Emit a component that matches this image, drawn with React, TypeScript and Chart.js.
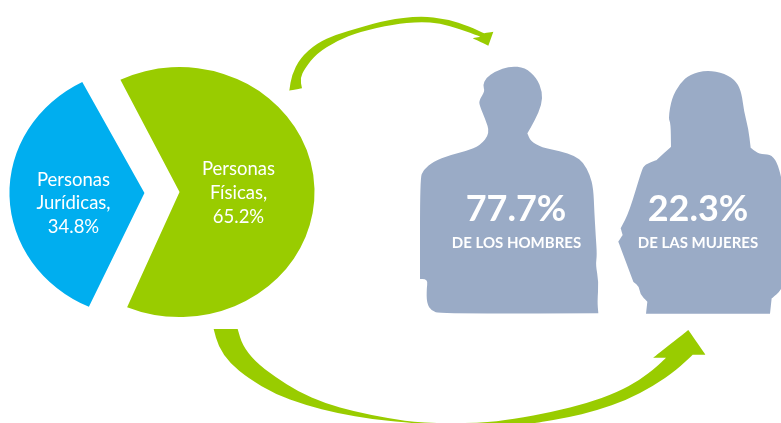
import React, { useEffect, useRef } from "react";
import { Chart, registerables } from "chart.js";

Chart.register(...registerables);

const categories = ["Personas Físicas", "Personas Jurídicas"];
const shares = [65.2, 34.8];
const sliceColors = ["#99CC00", "#00AEEF"];
const sliceLabels = [
  ["Personas", "Físicas,", "65.2%"],
  ["Personas", "Jurídicas,", "34.8%"],
];
const genderStats = ["77.7%", "22.3%"];
const genderLabels = ["DE LOS HOMBRES", "DE LAS MUJERES"];

const GREEN = "#99CC00";
const SILHOUETTE = "#9AABC6";
const FONT = "Lato";

type Pt = [number, number];

const map = (ox: number, oy: number, pts: Pt[]): Pt[] => pts.map(([x, y]) => [ox + x / 3, oy + y / 3]);

// Decorative outlines. A repeated point makes a sharp corner.
const manOutline = map(410, 55, [
  [300, 33], [345, 38], [380, 68], [397, 110], [395, 150], [375, 195], [352, 235], [352, 235], [362, 258], [395, 278],
  [450, 288], [495, 303], [520, 322], [540, 360], [550, 400], [553, 470], [557, 540], [561, 600], [557, 630], [566, 680],
  [562, 740], [565, 775], [565, 775], [90, 776], [65, 768], [50, 745], [50, 700], [53, 680], [45, 672], [30, 672], [30, 672],
  [30, 370], [40, 345], [70, 320], [120, 300], [170, 288], [210, 272], [240, 235], [225, 190], [208, 150], [208, 135],
  [225, 108], [218, 92], [228, 68], [255, 50],
]);

const womanOutline = map(600, 55, [
  [320, 45], [375, 55], [410, 80], [425, 115], [432, 170], [445, 220], [452, 278], [452, 278], [478, 298], [510, 298],
  [530, 318], [545, 370], [562, 470], [562, 650], [545, 705], [515, 730], [515, 730], [510, 776], [510, 776], [138, 776], [138, 776],
  [142, 740], [142, 740], [120, 718], [118, 695], [100, 680], [100, 680], [55, 560], [55, 560], [68, 540], [68, 540], [62, 520], [62, 520],
  [88, 470], [125, 345], [135, 328], [170, 315], [170, 315], [213, 275], [213, 275], [212, 205], [205, 190], [215, 130], [240, 85], [270, 58],
]);

const topArrow = map(280, 5, [
  [28, 257], [28, 257], [35, 210], [60, 160], [110, 115], [170, 88], [240, 68], [320, 45], [420, 33], [500, 42], [570, 65], [612, 85], [612, 85],
  [640, 80], [640, 80], [625, 122], [625, 122], [578, 100], [578, 100], [600, 95], [600, 95], [540, 72], [480, 55], [420, 50], [340, 58], [240, 80],
  [170, 108], [110, 145], [75, 190], [60, 220], [66, 250], [66, 250],
]);

const bottomArrow: Pt[] = [
  ...map(205, 320, [
    [26, 27], [26, 27], [40, 80], [75, 130], [130, 175], [210, 222], [300, 255], [400, 280], [500, 298], [600, 307], [650, 312],
  ]),
  ...map(440, 320, [
    [120, 312], [280, 310], [300, 307], [380, 293], [470, 272], [560, 240], [640, 198], [710, 150], [758, 104], [758, 104],
    [796, 104], [796, 104], [745, 30], [745, 30], [640, 113], [640, 113], [678, 113], [678, 113], [650, 140], [600, 180], [530, 218], [440, 250],
    [340, 275], [220, 298], [120, 309],
  ]),
  ...map(205, 320, [
    [650, 309], [550, 295], [450, 275], [360, 250], [280, 215], [210, 170], [150, 125], [112, 75], [98, 27], [98, 27],
  ]),
];

function trace(ctx: CanvasRenderingContext2D, pts: Pt[]) {
  const n = pts.length;
  const mid = (a: Pt, b: Pt): Pt => [(a[0] + b[0]) / 2, (a[1] + b[1]) / 2];
  const start = mid(pts[n - 1], pts[0]);
  ctx.beginPath();
  ctx.moveTo(start[0], start[1]);
  for (let i = 0; i < n; i++) {
    const m = mid(pts[i], pts[(i + 1) % n]);
    ctx.quadraticCurveTo(pts[i][0], pts[i][1], m[0], m[1]);
  }
  ctx.closePath();
}

const STRETCH = 1.08;
const RADIUS = 125;
const OFFSET = 65;

// The pie is drawn horizontally stretched; keep each slice's on-screen angle true to its share.
const unstretch = (a: number) => {
  const turns = Math.round((a - Math.atan2(Math.sin(a), Math.cos(a))) / (2 * Math.PI));
  return Math.atan2(Math.sin(a) * STRETCH, Math.cos(a)) + turns * 2 * Math.PI;
};

const artwork = {
  id: "artwork",
  afterDatasetsUpdate(chart: any) {
    chart.getDatasetMeta(0).data.forEach((arc: any) => {
      arc.startAngle = unstretch(arc.startAngle);
      arc.endAngle = unstretch(arc.endAngle);
      arc.circumference = arc.endAngle - arc.startAngle;
      const shift = OFFSET / 4;
      const fix = 1 - Math.sin(Math.min(Math.PI, arc.circumference));
      arc.outerRadius = RADIUS - shift * fix;
    });
  },
  beforeDatasetsDraw(chart: any) {
    const ctx: CanvasRenderingContext2D = chart.ctx;
    ctx.save();
    ctx.fillStyle = SILHOUETTE;
    trace(ctx, manOutline);
    ctx.fill();
    trace(ctx, womanOutline);
    ctx.fill();
    ctx.fillStyle = GREEN;
    trace(ctx, topArrow);
    ctx.fill();
    trace(ctx, bottomArrow);
    ctx.fill();
    ctx.restore();

    const cx = (chart.chartArea.left + chart.chartArea.right) / 2;
    ctx.save();
    ctx.translate(cx, 0);
    ctx.scale(STRETCH, 1);
    ctx.translate(-cx, 0);
  },
  afterDatasetsDraw(chart: any) {
    const ctx: CanvasRenderingContext2D = chart.ctx;
    ctx.restore();
    ctx.save();
    ctx.fillStyle = "#FFFFFF";
    ctx.textAlign = "center";
    ctx.textBaseline = "middle";

    ctx.font = `400 18.5px ${FONT}`;
    sliceLabels[0].forEach((t, i) => ctx.fillText(t, 238.5, 169 + i * 24));
    sliceLabels[1].forEach((t, i) => ctx.fillText(t, 73.5, 180 + i * 23.5));

    ctx.font = `700 36px ${FONT}`;
    ctx.fillText(genderStats[0], 516, 209);
    ctx.fillText(genderStats[1], 698, 209);

    ctx.font = `700 15px ${FONT}`;
    ctx.fillText(genderLabels[0], 516.5, 243.5);
    ctx.fillText(genderLabels[1], 698, 243.5);
    ctx.restore();
  },
};

export default function App() {
  const ref = useRef<HTMLCanvasElement>(null);
  useEffect(() => {
    document.body.style.margin = "0";
    document.body.style.background = "#FFFFFF";
    const chart = new Chart(ref.current!, {
      type: "pie",
      data: {
        labels: categories,
        datasets: [{ data: shares, backgroundColor: sliceColors, borderWidth: 0, offset: OFFSET }],
      },
      options: {
        animation: false,
        responsive: false,
        rotation: -29,
        radius: RADIUS,
        layout: { padding: { left: 0, right: 781 - 324, top: 0, bottom: 423 - 385 } },
        plugins: { legend: { display: false }, tooltip: { enabled: false } },
      } as any,
      plugins: [artwork],
    });
    return () => chart.destroy();
  }, []);
  return <canvas ref={ref} width={781} height={423} style={{ display: "block" }} />;
}
